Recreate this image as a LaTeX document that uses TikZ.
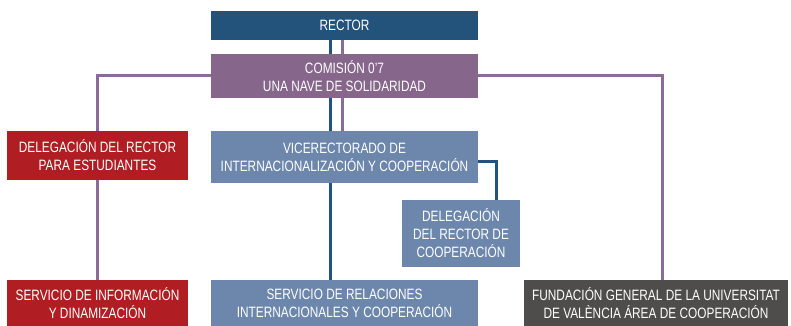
\documentclass[tikz,border=0pt]{standalone}
\usepackage{fontspec}
\setmainfont[FakeStretch=0.79]{Liberation Sans}
\usetikzlibrary{backgrounds}
\definecolor{rectorc}{HTML}{23527A}
\definecolor{comc}{HTML}{86668B}
\definecolor{redc}{HTML}{B01E24}
\definecolor{steelc}{HTML}{6C87AB}
\definecolor{grayc}{HTML}{4E4D4B}
\definecolor{purpline}{HTML}{8A6C99}
\begin{document}
\begin{tikzpicture}[x=1pt,y=-1pt,
  box/.style={rectangle, inner sep=0pt, align=center, text=white,
    font=\fontsize{15}{18}\selectfont},
  bline/.style={draw=rectorc, line width=3pt},
  pline/.style={draw=purpline, line width=3pt}]
\useasboundingbox (0,0) rectangle (791,326);
\node[box, fill=rectorc, minimum width=267pt, minimum height=29pt] (rector) at (344.5,25.5) {RECTOR};
\node[box, fill=comc, minimum width=267pt, minimum height=44pt] (com) at (344.5,76) {COMISIÓN 0’7\\UNA NAVE DE SOLIDARIDAD};
\node[box, fill=redc, minimum width=181pt, minimum height=49pt] (delest) at (97.5,155.5) {DELEGACIÓN DEL RECTOR\\PARA ESTUDIANTES};
\node[box, fill=steelc, minimum width=267pt, minimum height=52pt] (vice) at (344.5,157) {VICERECTORADO DE\\INTERNACIONALIZACIÓN Y COOPERACIÓN};
\node[box, fill=steelc, minimum width=118pt, minimum height=67pt] (delcoop) at (461,233.5) {DELEGACIÓN\\DEL RECTOR DE\\COOPERACIÓN};
\node[box, fill=redc, minimum width=181pt, minimum height=46pt] (servinfo) at (97.5,303) {SERVICIO DE INFORMACIÓN\\Y DINAMIZACIÓN};
\node[box, fill=steelc, minimum width=267pt, minimum height=46pt] (servrel) at (344.5,303) {SERVICIO DE RELACIONES\\INTERNACIONALES Y COOPERACIÓN};
\node[box, fill=grayc, minimum width=264pt, minimum height=46pt] (fund) at (656,303) {FUNDACIÓN GENERAL DE LA UNIVERSITAT\\DE VALÈNCIA ÁREA DE COOPERACIÓN};
\begin{scope}[on background layer]
\draw[bline] ([xshift=-14.5pt]rector.south) -- ([xshift=-14.5pt]servrel.north);
\draw[pline] ([xshift=-2.5pt]rector.south) -- ([xshift=-2.5pt]vice.north);
\draw[pline] (com.west) -| (delest.north);
\draw[pline] (delest.south) -- (servinfo.north);
\draw[pline] (com.east) -| ([xshift=6pt]fund.north);
\draw[bline] ([yshift=-4pt]vice.east) -| ([xshift=35pt]delcoop.north);
\end{scope}
\end{tikzpicture}
\end{document}
